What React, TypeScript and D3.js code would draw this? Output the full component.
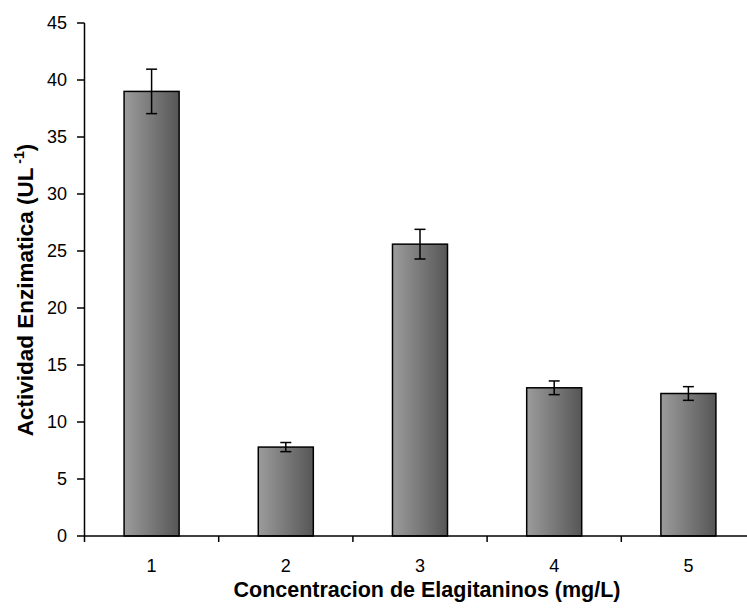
import React from "react";
import * as d3 from "d3";

// Enzyme activity by ellagitannin concentration level
const categories = ["1", "2", "3", "4", "5"];
const activity = [39, 7.8, 25.6, 13.0, 12.5];
const errors = [1.95, 0.4, 1.3, 0.6, 0.6];
const yTicks = [0, 5, 10, 15, 20, 25, 30, 35, 40, 45];

const W = 747;
const H = 610;
const left = 84.5;
const top = 23;
const bottom = 536;
const bandW = 134.2;

export default function App() {
  const band = d3
    .scaleBand<string>()
    .domain(categories)
    .range([left, left + bandW * categories.length]);
  const x = d3
    .scaleBand<string>()
    .domain(categories)
    .range([left, left + bandW * categories.length])
    .paddingInner(0.59)
    .paddingOuter(0.295);
  const y = d3.scaleLinear().domain([0, 45]).range([bottom, top]);
  const font = "Arial, 'Liberation Sans', sans-serif";

  return (
    <svg
      width={W}
      height={H}
      style={{ position: "absolute", left: 0, top: 0, background: "#fff" }}
      fontFamily={font}
    >
      <defs>
        <linearGradient id="barGrad" x1="0" x2="1" y1="0" y2="0">
          <stop offset="0%" stopColor="#9c9c9c" />
          <stop offset="100%" stopColor="#565656" />
        </linearGradient>
      </defs>

      {/* bars */}
      {categories.map((c, i) => (
        <rect
          key={c}
          x={x(c)!}
          y={y(activity[i])}
          width={x.bandwidth()}
          height={bottom - y(activity[i])}
          fill="url(#barGrad)"
          stroke="#000"
          strokeWidth={1.5}
        />
      ))}

      {/* error bars */}
      {categories.map((c, i) => {
        const cx = x(c)! + x.bandwidth() / 2;
        const hi = y(activity[i] + errors[i]);
        const lo = y(activity[i] - errors[i]);
        return (
          <g key={"e" + c} stroke="#000" strokeWidth={1.5}>
            <line x1={cx} x2={cx} y1={hi} y2={lo} />
            <line x1={cx - 5.5} x2={cx + 5.5} y1={hi} y2={hi} />
            <line x1={cx - 5.5} x2={cx + 5.5} y1={lo} y2={lo} />
          </g>
        );
      })}

      {/* y axis */}
      <line x1={left} x2={left} y1={top} y2={bottom} stroke="#000" strokeWidth={1.5} />
      {yTicks.map((t) => (
        <g key={t}>
          <line x1={left - 7.5} x2={left} y1={y(t)} y2={y(t)} stroke="#000" strokeWidth={1.5} />
          <text x={67} y={y(t)} dy="0.36em" textAnchor="end" fontSize={18} fill="#000">
            {t}
          </text>
        </g>
      ))}

      {/* x axis */}
      <line x1={left} x2={W} y1={bottom} y2={bottom} stroke="#000" strokeWidth={1.5} />
      {categories.map((c) => (
        <line
          key={"t" + c}
          x1={band(c)!}
          x2={band(c)!}
          y1={bottom}
          y2={bottom + 6}
          stroke="#000"
          strokeWidth={1.5}
        />
      ))}
      {categories.map((c) => (
        <text
          key={"l" + c}
          x={x(c)! + x.bandwidth() / 2}
          y={572}
          textAnchor="middle"
          fontSize={18}
          fill="#000"
        >
          {c}
        </text>
      ))}

      {/* axis titles */}
      <text x={427} y={597} textAnchor="middle" fontSize={21.5} fontWeight="bold" fill="#000">
        Concentracion de Elagitaninos (mg/L)
      </text>
      <text
        transform={`translate(33, 290) rotate(-90)`}
        textAnchor="middle"
        fontSize={22.5}
        fontWeight="bold"
        fill="#000"
      >
        Actividad Enzimatica (UL
        <tspan dy={-9} fontSize={14}> -1</tspan>
        <tspan dy={9}>)</tspan>
      </text>
    </svg>
  );
}
